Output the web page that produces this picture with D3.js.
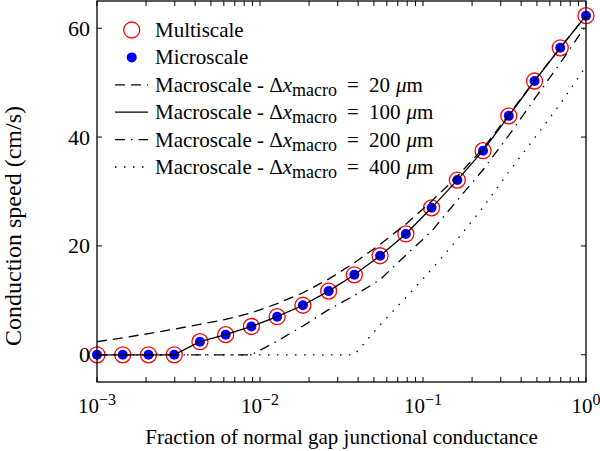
<!DOCTYPE html>
<html><head><meta charset="utf-8">
<script src="https://cdn.jsdelivr.net/npm/d3@7"></script>
<style>body{margin:0;background:#fff}svg{display:block}text{font-family:"Liberation Serif","Times New Roman",serif;fill:#000}</style>
</head><body><svg id="c" width="600" height="451"></svg>
<script>
// x: fraction of normal gap junctional conductance (20 log-spaced samples)
const fraction = [0.001, 0.0014384, 0.0020691, 0.0029764, 0.0042813, 0.0061585, 0.0088587, 0.012743, 0.018330, 0.026367,
  0.037927, 0.054556, 0.078476, 0.11288, 0.16238, 0.23357, 0.33598, 0.48329, 0.69519, 1.0];
const multiscale = [0, 0, 0, 0, 2.4, 3.7, 5.2, 7.0, 9.1, 11.7, 14.7, 18.2, 22.2, 27.0, 32.1, 37.5, 43.9, 50.3, 56.4, 62.3];
const microscale = [0, 0, 0, 0, 2.4, 3.7, 5.2, 7.0, 9.1, 11.7, 14.7, 18.2, 22.2, 27.0, 32.1, 37.5, 43.9, 50.3, 56.4, 62.3];
const macro20  = [2.4, 3.1, 3.9, 4.7, 5.6, 6.5, 7.7, 9.4, 11.4, 13.9, 16.9, 20.3, 24.0, 28.2, 32.8, 37.9, 44.1, 50.4, 56.4, 62.3];
const macro100 = [0, 0, 0, 0, 2.4, 3.7, 5.2, 7.0, 9.1, 11.7, 14.7, 18.2, 22.2, 27.0, 32.1, 37.5, 43.9, 50.3, 56.4, 62.3];
const macro200 = [0, 0, 0, 0, 0, 0, 0, 2.5, 5.3, 8.3, 10.9, 13.8, 18.3, 22.7, 28.4, 34.0, 40.3, 47.0, 53.6, 60.5];
const macro400 = [0, 0, 0, 0, 0, 0, 0, 0, 0, 0, 0, 5.5, 10.5, 15.7, 21.2, 27.1, 33.6, 39.8, 46.1, 53.0];
const xTickExps = ["\u22123", "\u22122", "\u22121", "0"];
const xTickVals = [0.001, 0.01, 0.1, 1];
const yTickVals = [0, 20, 40, 60];
const legendLabels = ["Multiscale", "Microscale", "20", "100", "200", "400"];

const svg = d3.select("#c");
const L = 97, R = 586, T = 1, B = 382;
const x = d3.scaleLog().domain([0.001, 1]).range([L, R]);
const y = d3.scaleLinear().domain([-5, 65]).range([B, T]);

// markers
const g = svg.append("g");
g.selectAll("circle.ms").data(fraction).join("circle").attr("class","ms")
  .attr("cx", d => x(d)).attr("cy", (d,i) => y(multiscale[i])).attr("r", 8)
  .attr("fill","none").attr("stroke","#ff0000").attr("stroke-width",1.3);
g.selectAll("circle.mi").data(fraction).join("circle").attr("class","mi")
  .attr("cx", d => x(d)).attr("cy", (d,i) => y(microscale[i])).attr("r", 5)
  .attr("fill","#0000ff");

const styles = [
  {data: macro20, dash: "10,6"},
  {data: macro100, dash: null},
  {data: macro200, dash: "10,6,1.5,6"},
  {data: macro400, dash: "1.5,7.5"}
];
const line = d3.line().x((d,i) => x(fraction[i])).y(d => y(d));
styles.forEach(s => {
  g.append("path").attr("d", line(s.data)).attr("fill","none").attr("stroke","#000")
    .attr("stroke-width",1.3).attr("stroke-dasharray", s.dash);
});

// frame & ticks
const ax = svg.append("g");
ax.append("rect").attr("x",L).attr("y",T).attr("width",R-L).attr("height",B-T)
  .attr("fill","none").attr("stroke","#000").attr("stroke-width",1.3);
const tl = 5;
const minor = [];
for (let e = -3; e < 0; e++) for (let k = 2; k <= 9; k++) minor.push(k*Math.pow(10,e));
const allX = xTickVals.concat(minor);
allX.forEach(v => {
  const px = x(v);
  ax.append("line").attr("x1",px).attr("x2",px).attr("y1",B).attr("y2",B-tl).attr("stroke","#000").attr("stroke-width",1);
  ax.append("line").attr("x1",px).attr("x2",px).attr("y1",T).attr("y2",T+tl).attr("stroke","#000").attr("stroke-width",1);
});
yTickVals.forEach(v => {
  const py = y(v);
  ax.append("line").attr("x1",L).attr("x2",L+tl).attr("y1",py).attr("y2",py).attr("stroke","#000");
  ax.append("line").attr("x1",R).attr("x2",R-tl).attr("y1",py).attr("y2",py).attr("stroke","#000");
  ax.append("text").attr("x",L-7).attr("y",py+7.5).attr("text-anchor","end").attr("font-size",22).text(v);
});
xTickVals.forEach((v,i) => {
  const t = ax.append("text").attr("x",x(v)).attr("y",413).attr("text-anchor","middle").attr("font-size",21);
  t.append("tspan").text("10");
  t.append("tspan").attr("dy",-8).attr("font-size",16).text(xTickExps[i]);
});
svg.append("text").attr("x",(L+R)/2).attr("y",444).attr("text-anchor","middle").attr("font-size",21)
  .text("Fraction of normal gap junctional conductance");
svg.append("text").attr("transform","translate(21,226) rotate(-90)").attr("text-anchor","middle").attr("font-size",24)
  .text("Conduction speed (cm/s)");

// legend
const lg = svg.append("g");
const rowY = i => 30 + i*27.4;
const sx = 131.7, lx1 = 115, lx2 = 148, tx = 155;
lg.append("circle").attr("cx",sx).attr("cy",rowY(0)).attr("r",8).attr("fill","none").attr("stroke","#ff0000").attr("stroke-width",1.3);
lg.append("circle").attr("cx",sx).attr("cy",rowY(1)).attr("r",5).attr("fill","#0000ff");
legendLabels.forEach((lab,i) => {
  const t = lg.append("text").attr("x",tx).attr("y",rowY(i)+7).attr("font-size",21);
  if (i < 2) { t.text(lab); return; }
  const s = styles[i-2];
  lg.append("line").attr("x1",lx1).attr("x2",lx2).attr("y1",rowY(i)).attr("y2",rowY(i))
    .attr("stroke","#000").attr("stroke-width",1.3).attr("stroke-dasharray", s.dash);
  t.append("tspan").text("Macroscale - \u0394");
  t.append("tspan").attr("font-style","italic").text("x");
  t.append("tspan").attr("font-size",18).attr("dy",4).text("macro");
  t.append("tspan").attr("dy",-4).attr("dx",10).text("=");
  t.append("tspan").attr("dx",10).text(lab);
  t.append("tspan").attr("dx",6).attr("font-style","italic").text("\u03bc");
  t.append("tspan").text("m");
});
</script></body></html>
